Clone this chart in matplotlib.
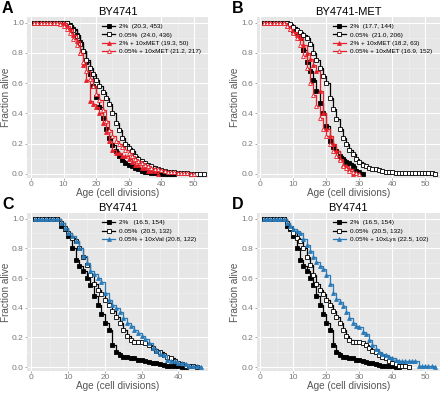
import numpy as np
import matplotlib
matplotlib.use("Agg")
import matplotlib.pyplot as plt

plt.rcParams['font.family'] = ['Liberation Sans', 'DejaVu Sans']

RED = "#e8202a"
BLUE = "#2a7ab8"

# ---- Panel A : BY4741 (survival at age 1, 2, 3 ...) ----
a_2 = [1.0]*10 + [0.995, 0.985, 0.96, 0.92, 0.87, 0.81, 0.74, 0.66, 0.58, 0.51,
                  0.44, 0.37, 0.30, 0.24, 0.19, 0.15, 0.12, 0.095, 0.075, 0.06,
                  0.05, 0.04, 0.03, 0.022, 0.015, 0.01, 0.007, 0.005, 0.004, 0.003,
                  0.002, 0.002, 0.002, 0.0]
a_005 = [1.0]*10 + [0.995, 0.98, 0.95, 0.91, 0.86, 0.81, 0.75, 0.70, 0.66, 0.62,
                    0.58, 0.54, 0.50, 0.46, 0.40, 0.34, 0.29, 0.24, 0.20, 0.17,
                    0.15, 0.12, 0.10, 0.085, 0.07, 0.06, 0.05, 0.04, 0.032, 0.025,
                    0.02, 0.016, 0.012, 0.01, 0.008, 0.006, 0.005, 0.004, 0.003, 0.002,
                    0.002, 0.002, 0.0]
a_2met = [1.0]*10 + [0.98, 0.96, 0.92, 0.88, 0.80, 0.72, 0.62, 0.48, 0.46, 0.44,
                     0.40, 0.34, 0.28, 0.22, 0.16, 0.14, 0.14, 0.12, 0.12, 0.10,
                     0.08, 0.06, 0.06, 0.04, 0.04, 0.02, 0.02, 0.02, 0.0]
a_005met = [1.0]*8 + [0.99, 0.98, 0.96, 0.93, 0.89, 0.85, 0.80, 0.74, 0.68, 0.63,
                      0.58, 0.53, 0.49, 0.42, 0.35, 0.29, 0.25, 0.22, 0.20, 0.18,
                      0.16, 0.14, 0.12, 0.10, 0.085, 0.07, 0.06, 0.05, 0.04, 0.035,
                      0.03, 0.025, 0.02, 0.016, 0.013, 0.01, 0.008, 0.006, 0.005, 0.004,
                      0.003, 0.0]

# ---- Panel B : BY4741-MET ----
b_2 = [1.0]*8 + [0.98, 0.95, 0.93, 0.90, 0.82, 0.74, 0.68, 0.62, 0.55, 0.47,
                 0.40, 0.32, 0.22, 0.18, 0.15, 0.12, 0.10, 0.08, 0.07, 0.05,
                 0.02, 0.01, 0.0]
b_005 = [1.0]*8 + [0.99, 0.97, 0.95, 0.94, 0.92, 0.90, 0.86, 0.80, 0.75, 0.70,
                   0.65, 0.60, 0.50, 0.43, 0.36, 0.30, 0.24, 0.20, 0.16, 0.13,
                   0.10, 0.08, 0.06, 0.05, 0.04, 0.035, 0.03, 0.025, 0.02, 0.015,
                   0.012, 0.01, 0.008, 0.006, 0.005, 0.005, 0.005, 0.005, 0.005, 0.005,
                   0.005, 0.005, 0.005, 0.005, 0.0]
b_2met = [1.0]*7 + [0.98, 0.96, 0.94, 0.92, 0.90, 0.85, 0.80, 0.76, 0.72, 0.68,
                    0.55, 0.40, 0.30, 0.25, 0.20, 0.15, 0.10, 0.06, 0.05, 0.03,
                    0.0]
b_005met = [1.0]*7 + [0.98, 0.96, 0.93, 0.90, 0.85, 0.78, 0.70, 0.60, 0.52, 0.45,
                      0.37, 0.30, 0.25, 0.20, 0.15, 0.12, 0.09, 0.05, 0.04, 0.02,
                      0.01, 0.005, 0.0]

# ---- Panels C, D : BY4741 (shared controls) ----
cd_2 = [1.0]*7 + [0.95, 0.93, 0.88, 0.80, 0.72, 0.68, 0.65, 0.60, 0.55, 0.48,
                  0.42, 0.36, 0.30, 0.25, 0.15, 0.10, 0.08, 0.07, 0.065, 0.06,
                  0.06, 0.05, 0.045, 0.04, 0.035, 0.03, 0.025, 0.02, 0.015, 0.01,
                  0.008, 0.006, 0.005, 0.004, 0.0]
cd_005 = [1.0]*7 + [0.97, 0.94, 0.90, 0.87, 0.85, 0.80, 0.74, 0.69, 0.62, 0.56,
                    0.52, 0.49, 0.45, 0.42, 0.38, 0.34, 0.30, 0.25, 0.21, 0.18,
                    0.17, 0.17, 0.17, 0.16, 0.15, 0.13, 0.11, 0.10, 0.08, 0.07,
                    0.06, 0.04, 0.03, 0.02, 0.01, 0.01, 0.005, 0.0]
c_val = [1.0]*7 + [0.97, 0.94, 0.90, 0.88, 0.85, 0.80, 0.75, 0.70, 0.65, 0.63,
                   0.60, 0.57, 0.50, 0.45, 0.42, 0.40, 0.37, 0.33, 0.30, 0.28,
                   0.25, 0.23, 0.21, 0.19, 0.16, 0.13, 0.11, 0.09, 0.08, 0.05,
                   0.04, 0.04, 0.03, 0.025, 0.02, 0.01, 0.01, 0.005, 0.0]
d_lys = [1.0]*7 + [0.97, 0.95, 0.93, 0.92, 0.90, 0.86, 0.82, 0.78, 0.74, 0.71,
                   0.68, 0.66, 0.62, 0.56, 0.50, 0.46, 0.44, 0.41, 0.37, 0.33,
                   0.30, 0.28, 0.27, 0.24, 0.22, 0.18, 0.15, 0.12, 0.10, 0.09,
                   0.08, 0.07, 0.06, 0.05, 0.04, 0.04, 0.04, 0.04, 0.04, 0.04,
                   0.01, 0.01, 0.01, 0.01, 0.01, 0.0]

panels = [
    ("A", "BY4741", [0.0614, 0.548, 0.411, 0.409], 54.3, [0, 10, 20, 30, 40, 50],
     [(a_2, "2%  (20.3, 453)", "k", "s", True),
      (a_005, "0.05%  (24.0, 436)", "k", "s", False),
      (a_2met, "2% + 10xMET (19.3, 50)", RED, "^", True),
      (a_005met, "0.05% + 10xMET (21.2, 217)", RED, "^", False)]),
    ("B", "BY4741-MET", [0.583, 0.548, 0.417, 0.409], 54.5, [0, 10, 20, 30, 40, 50],
     [(b_2, "2%  (17.7, 144)", "k", "s", True),
      (b_005, "0.05%  (21.0, 206)", "k", "s", False),
      (b_2met, "2% + 10xMET (18.2, 63)", RED, "^", True),
      (b_005met, "0.05% + 10xMET (16.9, 152)", RED, "^", False)]),
    ("C", "BY4741", [0.0614, 0.058, 0.411, 0.401], 48.0, [0, 10, 20, 30, 40],
     [(cd_2, "2%   (16.5, 154)", "k", "s", True),
      (cd_005, "0.05%  (20.5, 132)", "k", "s", False),
      (c_val, "0.05% + 10xVal (20.8, 122)", BLUE, "^", True)]),
    ("D", "BY4741", [0.583, 0.058, 0.417, 0.401], 54.5, [0, 10, 20, 30, 40, 50],
     [(cd_2, "2%  (16.5, 154)", "k", "s", True),
      (cd_005, "0.05%  (20.5, 132)", "k", "s", False),
      (d_lys, "0.05% + 10xLys (22.5, 102)", BLUE, "^", True)]),
]

fig = plt.figure(figsize=(4.4, 3.94), dpi=100)

for letter, title, pos, xmax, xticks, series in panels:
    ax = fig.add_axes(pos)
    ax.set_facecolor("#e6e6e6")
    for sp in ax.spines.values():
        sp.set_visible(False)
    ax.set_xlim(-1.2, xmax)
    ax.set_ylim(-0.027, 1.037)
    ax.set_xticks(xticks)
    ax.set_xticks([t + 5 for t in xticks if t + 5 < xmax], minor=True)
    ax.set_yticks([0, 0.2, 0.4, 0.6, 0.8, 1.0])
    ax.set_yticks([0.1, 0.3, 0.5, 0.7, 0.9], minor=True)
    ax.set_yticklabels(["0.0", "0.2", "0.4", "0.6", "0.8", "1.0"])
    ax.grid(which="major", color="white", lw=0.8)
    ax.grid(which="minor", color="#f2f2f2", lw=0.4)
    ax.set_axisbelow(True)
    ax.tick_params(which="major", length=1.5, width=0.5, color="#888888",
                   labelsize=6, labelcolor="#7a7a7a", pad=0.8)
    ax.tick_params(which="minor", length=0)
    ax.set_xlabel("Age (cell divisions)", fontsize=7.2, color="#555555", labelpad=0)
    ax.set_ylabel("Fraction alive", fontsize=7.2, color="#555555", labelpad=1)
    ax.set_title(title, fontsize=8, pad=1.5)

    for vals, lab, col, mk, filled in series:
        ages = np.arange(1, len(vals) + 1)
        ax.plot(ages, vals, drawstyle="steps-post", color=col, lw=0.9)
        ax.plot(ages, vals, ls="none", marker=mk, ms=2.8, mew=0.6, color=col,
                mfc=col if filled else "white", mec=col)
        ax.plot([], [], color=col, lw=0.9, marker=mk, ms=2.8, mew=0.6,
                mfc=col if filled else "white", mec=col, label=lab)

    ax.legend(loc="upper left", bbox_to_anchor=(0.41, 0.965), frameon=False,
              fontsize=4.6, handlelength=2.0, handletextpad=0.6, labelspacing=0.45,
              borderaxespad=0, borderpad=0.2)

    fig.text(pos[0] - 0.057, pos[1] + pos[3] + 0.022, letter, fontsize=11.5,
             fontweight="bold", va="center", ha="left")

fig.savefig("out.png", dpi=100)
